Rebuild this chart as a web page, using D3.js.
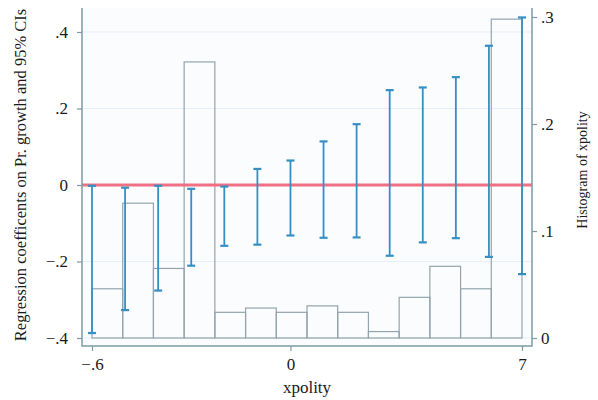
<!DOCTYPE html>
<html>
<head>
<meta charset="utf-8">
<script src="https://cdn.jsdelivr.net/npm/d3@7"></script>
<style>
  body { margin: 0; background: #fff; }
  text { font-family: "Liberation Serif", "DejaVu Serif", serif; }
</style>
</head>
<body>
<div id="chart"></div>
<script>
// category positions along x (14 bins), labelled at selected ones
var xLabels = [{i: 0, t: "\u2212.6"}, {i: 6, t: "0"}, {i: 13, t: "7"}];

// 95% CI bounds of the regression coefficients
var ciUpper = [-0.002, -0.007, -0.002, -0.01, -0.004, 0.042, 0.064, 0.114, 0.159, 0.248, 0.255, 0.282, 0.364, 0.438];
var ciLower = [-0.387, -0.327, -0.276, -0.211, -0.159, -0.156, -0.132, -0.138, -0.137, -0.185, -0.15, -0.139, -0.188, -0.233];

// histogram of xpolity (density)
var histVals = [0.046, 0.126, 0.065, 0.258, 0.024, 0.028, 0.024, 0.030, 0.024, 0.006, 0.038, 0.067, 0.046, 0.298];

var leftTicks = [-0.4, -0.2, 0, 0.2, 0.4];
var rightTicks = [0, 0.1, 0.2, 0.3];

var W = 598, H = 400;
var svg = d3.select("#chart").append("svg")
    .attr("width", W).attr("height", H);

var plotL = 82, plotR = 532, plotT = 8, plotB = 346;

var x = d3.scaleLinear().domain([0, 13]).range([92, 522]);
var yL = d3.scaleLinear().domain([-0.4, 0.4]).range([338, 32]);
var yR = d3.scaleLinear().domain([0, 0.3]).range([338, 17]);

var axisCol = "#7d9aa6";

// plot background
svg.append("rect")
    .attr("x", plotL).attr("y", plotT)
    .attr("width", plotR - plotL).attr("height", plotB - plotT)
    .attr("fill", "#fbfcfe");

// faint grid
svg.selectAll(".grid").data(leftTicks)
    .enter().append("line")
    .attr("x1", plotL).attr("x2", plotR)
    .attr("y1", function(d){ return yL(d); })
    .attr("y2", function(d){ return yL(d); })
    .attr("stroke", "#e6eff7").attr("stroke-width", 1);

// histogram bars
var binW = (x(13) - x(0)) / histVals.length;
svg.selectAll(".bar").data(histVals)
    .enter().append("rect")
    .attr("x", function(d, i){ return x(0) + i * binW; })
    .attr("y", function(d){ return yR(d); })
    .attr("width", binW)
    .attr("height", function(d){ return yR(0) - yR(d); })
    .attr("fill", "none")
    .attr("stroke", "#93a4ae").attr("stroke-width", 1.2);

// zero reference line
svg.append("line")
    .attr("x1", plotL).attr("x2", plotR)
    .attr("y1", yL(0)).attr("y2", yL(0))
    .attr("stroke", "#f06f82").attr("stroke-width", 2.8);

// confidence intervals (range caps)
var blue = "#3490c4";
var ci = svg.selectAll(".ci").data(ciUpper)
    .enter().append("g");
ci.append("line")
    .attr("x1", function(d, i){ return x(i); })
    .attr("x2", function(d, i){ return x(i); })
    .attr("y1", function(d){ return yL(d); })
    .attr("y2", function(d, i){ return yL(ciLower[i]); })
    .attr("stroke", blue).attr("stroke-width", 1.8);
ci.append("line")
    .attr("x1", function(d, i){ return x(i) - 4; })
    .attr("x2", function(d, i){ return x(i) + 4; })
    .attr("y1", function(d){ return yL(d); })
    .attr("y2", function(d){ return yL(d); })
    .attr("stroke", blue).attr("stroke-width", 2.2);
ci.append("line")
    .attr("x1", function(d, i){ return x(i) - 4; })
    .attr("x2", function(d, i){ return x(i) + 4; })
    .attr("y1", function(d, i){ return yL(ciLower[i]); })
    .attr("y2", function(d, i){ return yL(ciLower[i]); })
    .attr("stroke", blue).attr("stroke-width", 2.2);

// axes
function styleAxis(g) {
    g.select(".domain").remove();
    g.selectAll(".tick line").attr("stroke", axisCol).attr("stroke-width", 1.2);
    g.selectAll(".tick text").attr("fill", "#1a1a1a").style("font-size", "17px")
        .style("font-family", "Liberation Serif, serif");
}

var fmt = function(d){
    if (d === 0) return "0";
    var s = d3.format(".1f")(Math.abs(d)).replace(/^0/, "");
    return (d < 0 ? "\u2212" : "") + s;
};

svg.append("g")
    .attr("transform", "translate(" + plotL + ",0)")
    .call(d3.axisLeft(yL).tickValues(leftTicks).tickFormat(fmt).tickSize(5).tickPadding(9))
    .call(styleAxis);

svg.append("g")
    .attr("transform", "translate(" + plotR + ",0)")
    .call(d3.axisRight(yR).tickValues(rightTicks).tickFormat(fmt).tickSize(5).tickPadding(4))
    .call(styleAxis);

svg.append("g")
    .attr("transform", "translate(0," + plotB + ")")
    .call(d3.axisBottom(x).tickValues(xLabels.map(function(d){ return d.i; }))
        .tickFormat(function(d){ return xLabels.find(function(l){ return l.i === d; }).t; })
        .tickSize(5).tickPadding(7))
    .call(styleAxis);

// axis lines
svg.append("path")
    .attr("d", "M" + plotL + "," + plotT + "V" + plotB + "H" + plotR + "V" + plotT)
    .attr("fill", "none").attr("stroke", axisCol).attr("stroke-width", 1.5);

// titles
svg.append("text")
    .attr("transform", "translate(26,175) rotate(-90)")
    .attr("text-anchor", "middle")
    .style("font-size", "16.5px").attr("fill", "#1a1a1a")
    .text("Regression coefficents on Pr. growth and 95% CIs");

svg.append("text")
    .attr("transform", "translate(587,170) rotate(-90)")
    .attr("text-anchor", "middle")
    .style("font-size", "14px").attr("fill", "#1a1a1a")
    .text("Histogram of xpolity");

svg.append("text")
    .attr("x", 307).attr("y", 393)
    .attr("text-anchor", "middle")
    .style("font-size", "17px").attr("fill", "#1a1a1a")
    .text("xpolity");
</script>
</body>
</html>
